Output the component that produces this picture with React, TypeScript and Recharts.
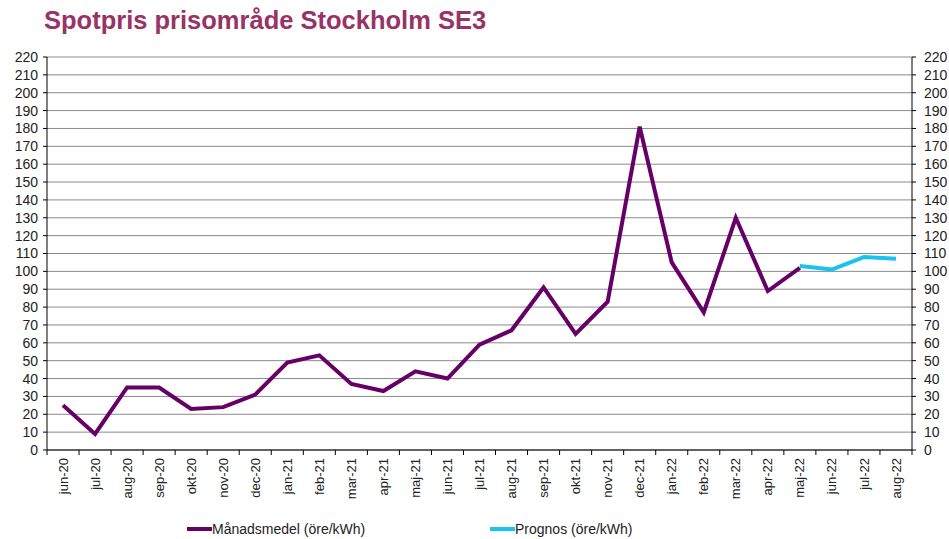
import { ComposedChart, Line, XAxis, YAxis, CartesianGrid } from "recharts";

const months = [
  "jun-20", "jul-20", "aug-20", "sep-20", "okt-20", "nov-20", "dec-20",
  "jan-21", "feb-21", "mar-21", "apr-21", "maj-21", "jun-21", "jul-21",
  "aug-21", "sep-21", "okt-21", "nov-21", "dec-21", "jan-22", "feb-22",
  "mar-22", "apr-22", "maj-22", "jun-22", "jul-22", "aug-22",
];

const monthlyAvg = [
  25, 9, 35, 35, 23, 24, 31, 49, 53, 37, 33, 44, 40, 59, 67, 91, 65, 83,
  181, 105, 77, 130, 89, 102, null, null, null,
];

const forecast = [
  null, null, null, null, null, null, null, null, null, null, null, null,
  null, null, null, null, null, null, null, null, null, null, null, 103,
  101, 108, 107,
];

const yTicks = [0, 10, 20, 30, 40, 50, 60, 70, 80, 90, 100, 110, 120, 130, 140, 150, 160, 170, 180, 190, 200, 210, 220];

const data = months.map((m, i) => ({ month: m, avg: monthlyAvg[i], prognos: forecast[i] }));

const PURPLE = "#660066";
const BLUE = "#19c3f0";
const BAND = 865 / months.length;

function MonthTick(props: any) {
  const { x, y, payload, index } = props;
  const axisY = y - 8;
  return (
    <g>
      <line x1={x - BAND / 2} x2={x - BAND / 2} y1={axisY} y2={axisY + 5} stroke="#000" />
      {index === months.length - 1 && (
        <line x1={x + BAND / 2} x2={x + BAND / 2} y1={axisY} y2={axisY + 5} stroke="#000" />
      )}
      <text
        transform={`translate(${x},${y}) rotate(-90)`}
        textAnchor="end"
        dy="0.35em"
        fontSize={13}
        fill="#222"
      >
        {payload.value}
      </text>
    </g>
  );
}

export default function App() {
  return (
    <div
      style={{
        position: "absolute",
        left: 0,
        top: 0,
        width: 949,
        height: 539,
        background: "#fff",
        fontFamily: "'Liberation Sans', Arial, sans-serif",
      }}
    >
      <div
        style={{
          position: "absolute",
          left: 44,
          top: 6,
          fontSize: 25.5,
          fontWeight: "bold",
          color: "#993366",
        }}
      >
        Spotpris prisområde Stockholm SE3
      </div>
      <ComposedChart
        width={949}
        height={539}
        data={data}
        margin={{ top: 57, right: 0, bottom: 29, left: 0 }}
        style={{ fontFamily: "'Liberation Sans', Arial, sans-serif" }}
      >
        <CartesianGrid vertical={false} stroke="#8a8a8a" yAxisId="left" />
        <XAxis
          dataKey="month"
          scale="band"
          interval={0}
          height={60}
          tickLine={false}
          tickSize={6}
          tickMargin={2}
          stroke="#000"
          tick={<MonthTick />}
        />
        <YAxis
          yAxisId="left"
          domain={[0, 220]}
          ticks={yTicks}
          interval={0}
          width={47}
          tickSize={4}
          tickMargin={5}
          stroke="#000"
          tick={{ fontSize: 14, fill: "#222" }}
        />
        <YAxis
          yAxisId="right"
          orientation="right"
          domain={[0, 220]}
          ticks={yTicks}
          interval={0}
          width={37}
          tickSize={4}
          tickMargin={8}
          stroke="#000"
          tick={{ fontSize: 14, fill: "#222" }}
        />
        <Line
          yAxisId="right"
          dataKey="avg"
          stroke="none"
          dot={false}
          activeDot={false}
          legendType="none"
          isAnimationActive={false}
        />
        <Line
          yAxisId="left"
          dataKey="avg"
          stroke={PURPLE}
          strokeWidth={4}
          dot={false}
          isAnimationActive={false}
        />
        <Line
          yAxisId="left"
          dataKey="prognos"
          stroke={BLUE}
          strokeWidth={4}
          dot={false}
          isAnimationActive={false}
        />
      </ComposedChart>
      <div style={{ position: "absolute", left: 187, top: 521, display: "flex", alignItems: "center", fontSize: 14, color: "#222" }}>
        <span style={{ display: "inline-block", width: 25, height: 4, background: PURPLE }} />
        <span>Månadsmedel (öre/kWh)</span>
      </div>
      <div style={{ position: "absolute", left: 490, top: 521, display: "flex", alignItems: "center", fontSize: 14, color: "#222" }}>
        <span style={{ display: "inline-block", width: 25, height: 4, background: BLUE }} />
        <span>Prognos (öre/kWh)</span>
      </div>
    </div>
  );
}
